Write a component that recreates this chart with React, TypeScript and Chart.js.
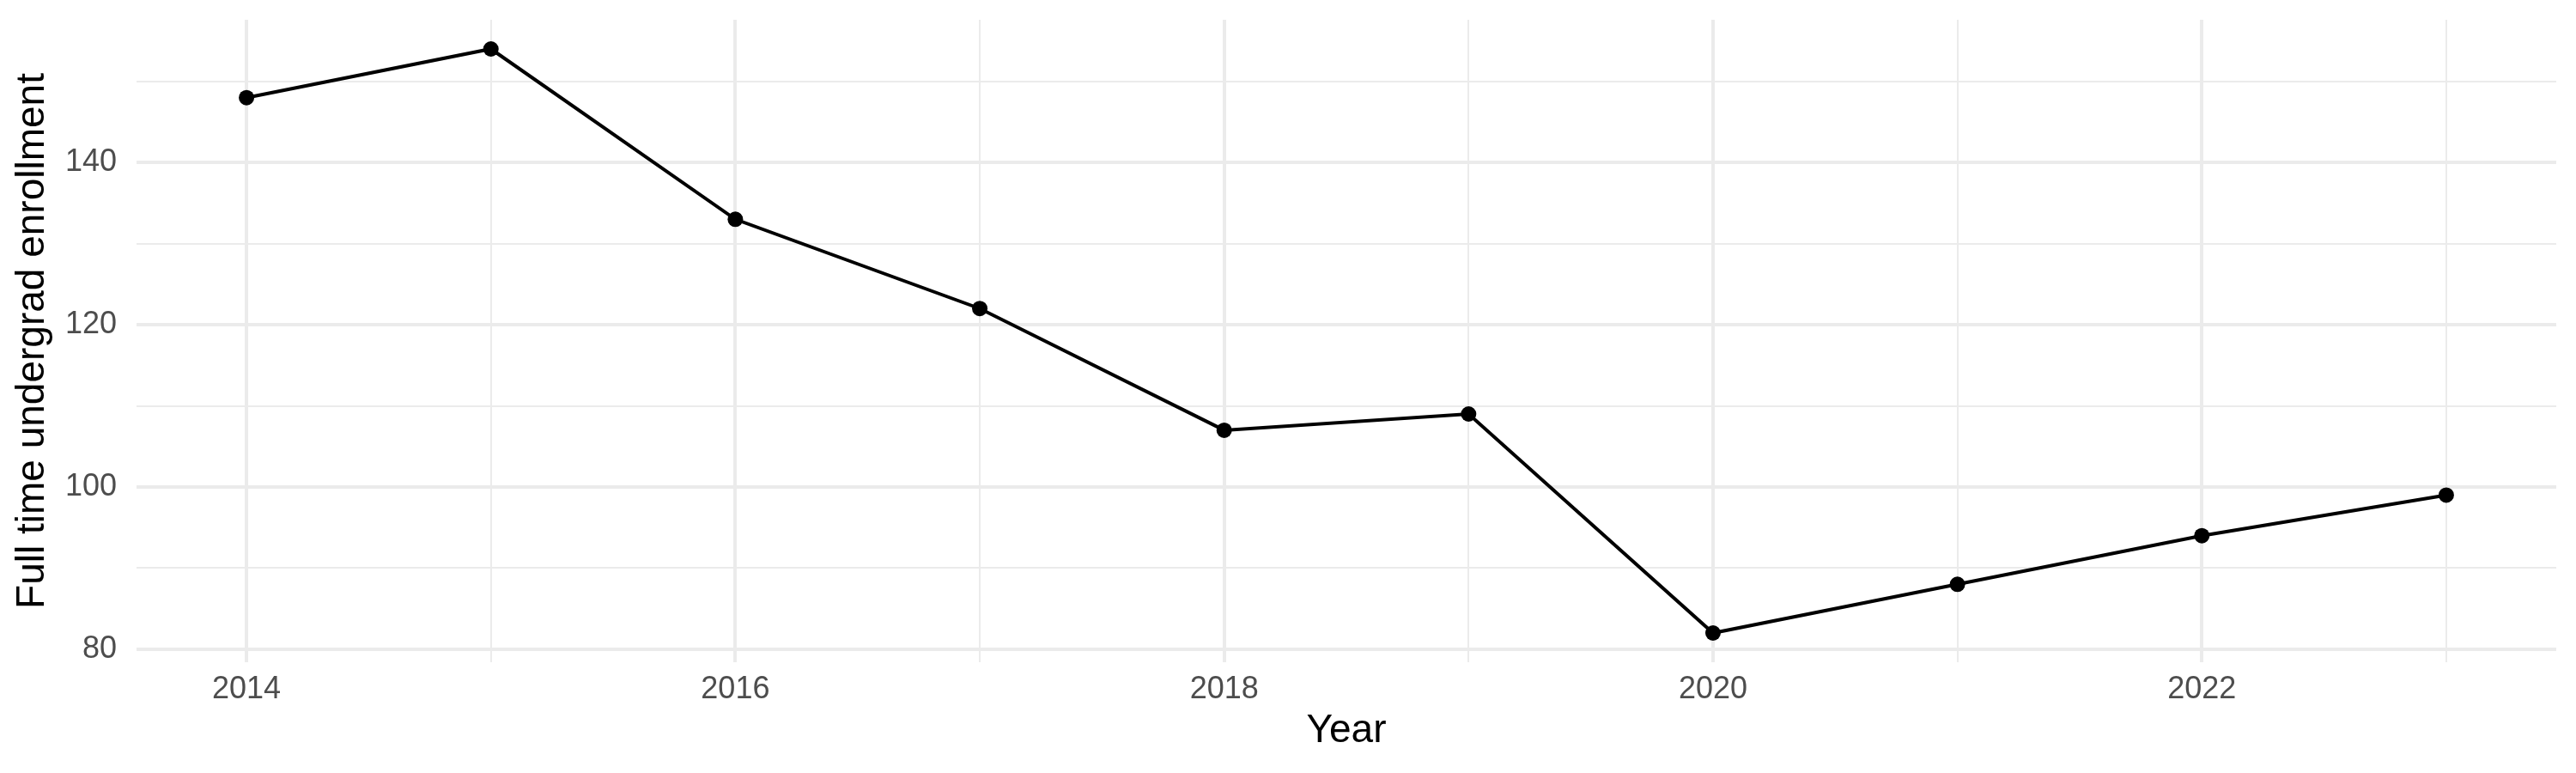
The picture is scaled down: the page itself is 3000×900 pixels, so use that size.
import { useEffect, useRef } from 'react';
import { Chart, registerables } from 'chart.js';

Chart.register(...registerables);

const years = [2014, 2015, 2016, 2017, 2018, 2019, 2020, 2021, 2022, 2023];
const enrollment = [148, 154, 133, 122, 107, 109, 82, 88, 94, 99];
const xMajorTicks = [2014, 2016, 2018, 2020, 2022];
const yMajorTicks = [80, 100, 120, 140];
const yAllTicks = [80, 90, 100, 110, 120, 130, 140, 150];

const FONT = '"Liberation Sans", Arial, Helvetica, sans-serif';

export default function App() {
  const chartRef = useRef<HTMLCanvasElement>(null);
  const chartInstance = useRef<Chart | null>(null);

  useEffect(() => {
    if (!chartRef.current) return;
    const ctx = chartRef.current.getContext('2d');
    if (!ctx) return;

    // keep the scales from reserving extra room for half-height labels
    const noPad = (scale: any) => {
      scale.paddingTop = 0;
      scale.paddingBottom = 0;
      scale.paddingLeft = 0;
      scale.paddingRight = 0;
    };

    chartInstance.current = new Chart(ctx, {
      type: 'line',
      data: {
        datasets: [
          {
            label: 'Full time undergrad enrollment',
            data: years.map((y, i) => ({ x: y, y: enrollment[i] })),
            borderColor: '#000000',
            backgroundColor: '#000000',
            borderWidth: 4,
            pointRadius: 9,
            pointBorderWidth: 0,
            pointBackgroundColor: '#000000',
            fill: false,
            tension: 0,
          },
        ],
      },
      options: {
        responsive: false,
        animation: false,
        devicePixelRatio: 1,
        layout: { padding: { top: 23, right: 23, left: 0, bottom: 0 } },
        plugins: {
          legend: { display: false },
          tooltip: { enabled: false },
        },
        scales: {
          x: {
            type: 'linear',
            min: 2013.55,
            max: 2023.45,
            afterBuildTicks: (scale) => {
              scale.ticks = years.map((v) => ({ value: v }));
            },
            afterFit: (scale) => {
              scale.height = 129;
              noPad(scale);
            },
            border: { display: false },
            grid: {
              color: '#EBEBEB',
              drawTicks: false,
              lineWidth: (c) => (xMajorTicks.includes(c.tick?.value) ? 4 : 2),
            },
            ticks: {
              padding: 10,
              color: '#4D4D4D',
              font: { family: FONT, size: 36 },
              maxRotation: 0,
              autoSkip: false,
              callback: (v) => (xMajorTicks.includes(Number(v)) ? String(v) : ''),
            },
            title: {
              display: true,
              text: 'Year',
              color: '#000000',
              font: { family: FONT, size: 46 },
              padding: { top: 0, bottom: 21 },
            },
          },
          y: {
            min: 78.4,
            max: 157.6,
            afterBuildTicks: (scale) => {
              scale.ticks = yAllTicks.map((v) => ({ value: v }));
            },
            afterFit: (scale) => {
              scale.width = 159;
              noPad(scale);
            },
            border: { display: false },
            grid: {
              color: '#EBEBEB',
              drawTicks: false,
              lineWidth: (c) => (yMajorTicks.includes(c.tick?.value) ? 4 : 2),
            },
            ticks: {
              padding: 23,
              color: '#4D4D4D',
              font: { family: FONT, size: 36 },
              autoSkip: false,
              callback: (v) => (yMajorTicks.includes(Number(v)) ? String(v) : ''),
            },
            title: {
              display: true,
              text: 'Full time undergrad enrollment',
              color: '#000000',
              font: { family: FONT, size: 46 },
              padding: { top: 11, bottom: 0 },
            },
          },
        },
      },
    });

    return () => {
      if (chartInstance.current) {
        chartInstance.current.destroy();
        chartInstance.current = null;
      }
    };
  }, []);

  return (
    <div style={{ position: 'fixed', left: 0, top: 0, width: 3000, height: 900, background: '#ffffff' }}>
      <canvas ref={chartRef} width={3000} height={900} style={{ width: 3000, height: 900 }} />
    </div>
  );
}
